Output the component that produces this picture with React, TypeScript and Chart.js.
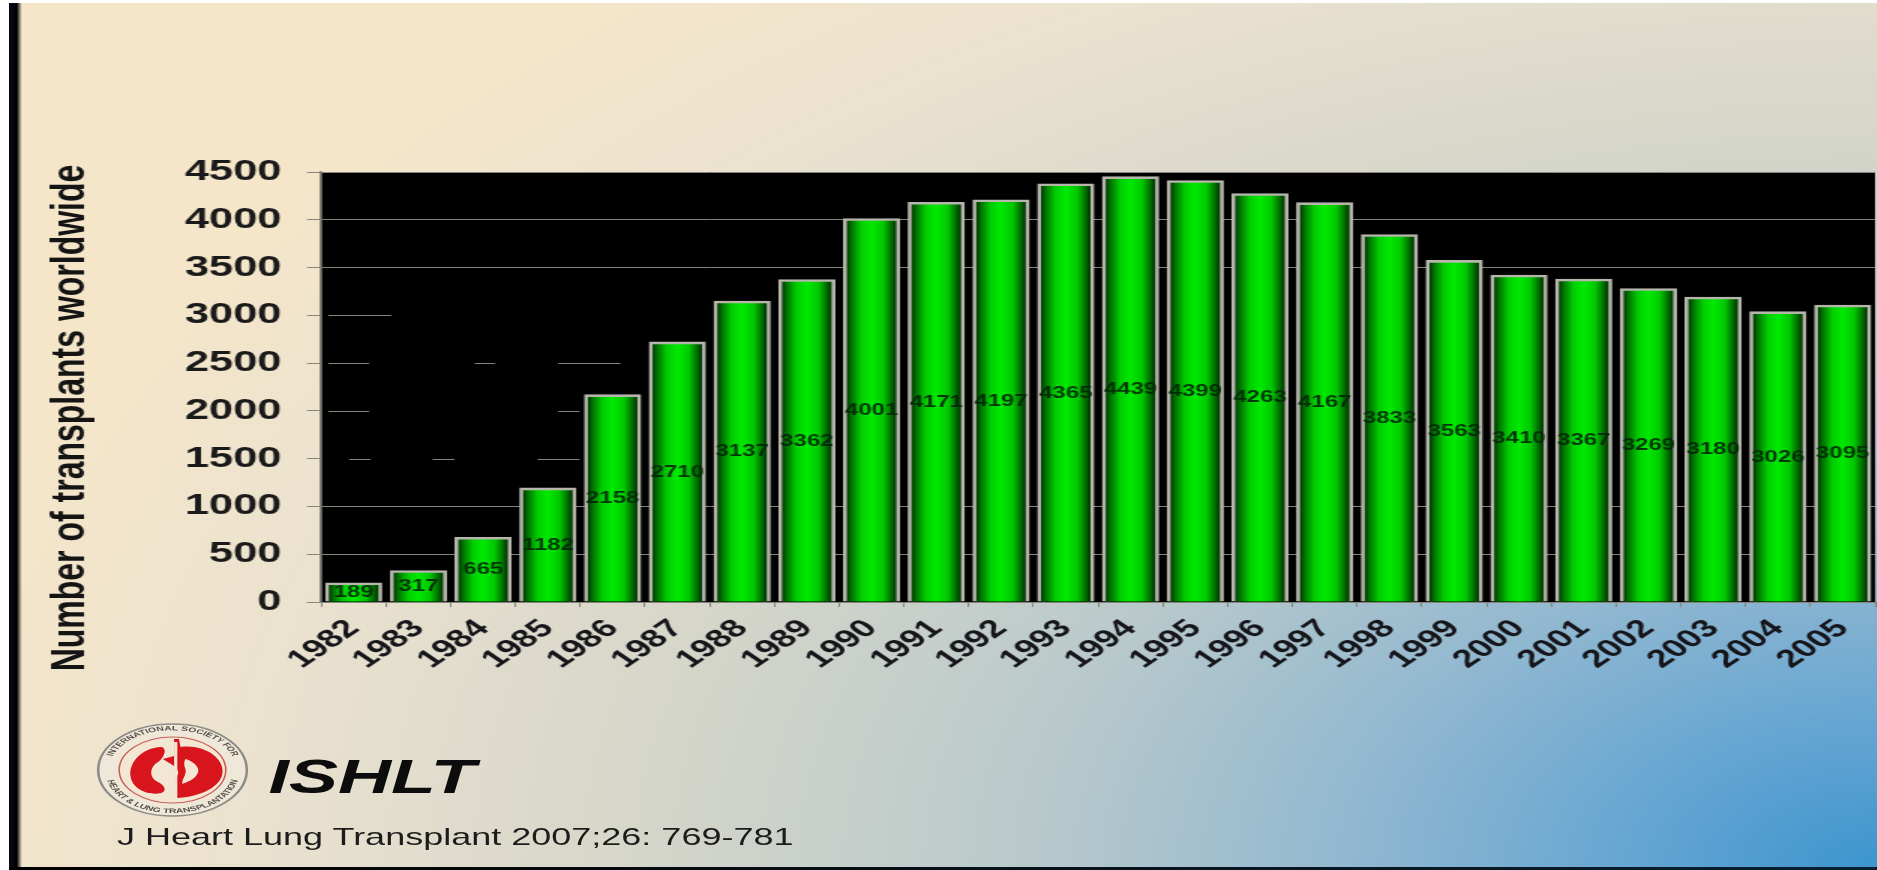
import React, { useEffect, useRef } from "react";
import { Chart, registerables } from "chart.js";

Chart.register(...registerables);

const years = ["1982","1983","1984","1985","1986","1987","1988","1989","1990","1991","1992","1993","1994","1995","1996","1997","1998","1999","2000","2001","2002","2003","2004","2005"];
const transplants = [189,317,665,1182,2158,2710,3137,3362,4001,4171,4197,4365,4439,4399,4263,4167,3833,3563,3410,3367,3269,3180,3026,3095];
// Grid values drawn only as short pieces: [value, from category, to category]
const gridPieces: [number, number, number][] = [
  [3000, 0.11, 1.08],
  [2500, 0.11, 0.74], [2500, 2.37, 2.68], [2500, 3.66, 4.62],
  [2000, 0.11, 0.74], [2000, 3.66, 3.99],
  [1500, 0.43, 0.76], [1500, 1.72, 2.06], [1500, 3.34, 3.99],
];
const brokenGridValues = [1500, 2000, 2500, 3000];
const yAxisTitle = "Number of transplants worldwide";

const SANS = '"Liberation Sans", Arial, sans-serif';
const GRID = "#85857c";
const STRETCH = 1.5;
const WIDTH = 1877 / STRETCH;

const plotBackdrop = {
  id: "plotBackdrop",
  beforeDraw(chart: any) {
    const { ctx, chartArea: a } = chart;
    ctx.save();
    ctx.fillStyle = "#000";
    ctx.fillRect(a.left, a.top, a.right - a.left, a.bottom - a.top);
    ctx.restore();
  },
  beforeDatasetsDraw(chart: any) {
    const { ctx, scales } = chart;
    const step = scales.x.width / years.length;
    ctx.save();
    ctx.strokeStyle = GRID;
    ctx.lineWidth = 1;
    for (const [value, from, to] of gridPieces) {
      const y = Math.round(scales.y.getPixelForValue(value)) + 0.5;
      ctx.beginPath();
      ctx.moveTo(scales.x.left + from * step, y);
      ctx.lineTo(scales.x.left + to * step, y);
      ctx.stroke();
    }
    ctx.restore();
  },
};

const valueLabels = {
  id: "valueLabels",
  afterDatasetsDraw(chart: any) {
    const { ctx } = chart;
    const bars = chart.getDatasetMeta(0).data;
    ctx.save();
    ctx.font = `bold 16px ${SANS}`;
    ctx.textAlign = "center";
    ctx.textBaseline = "middle";
    ctx.fillStyle = "rgba(2,40,6,0.92)";
    bars.forEach((bar: any, i: number) => {
      ctx.fillText(String(transplants[i]), bar.x, (bar.y + bar.base) / 2);
    });
    ctx.restore();
  },
};

// The axis title sits lower than the middle of the axis, so it is placed by hand.
const sideTitle = {
  id: "sideTitle",
  afterDraw(chart: any) {
    const { ctx } = chart;
    ctx.save();
    ctx.translate(47, 418);
    ctx.rotate(-Math.PI / 2);
    ctx.font = `bold 32px ${SANS}`;
    ctx.textAlign = "center";
    ctx.textBaseline = "middle";
    ctx.fillStyle = "#141414";
    ctx.fillText(yAxisTitle, 0, 0);
    ctx.restore();
  },
};

function barFill(context: any) {
  const chart = context.chart;
  const scale = chart.scales?.x;
  if (!scale || !chart.chartArea) return "#00c000";
  const centre = scale.getPixelForValue(context.dataIndex);
  const half = 17.5;
  const g = chart.ctx.createLinearGradient(centre - half, 0, centre + half, 0);
  g.addColorStop(0, "#002400");
  g.addColorStop(0.12, "#007400");
  g.addColorStop(0.3, "#00cc00");
  g.addColorStop(0.5, "#00ea00");
  g.addColorStop(0.72, "#00c800");
  g.addColorStop(0.88, "#006a00");
  g.addColorStop(1, "#001e00");
  return g;
}

function Logo() {
  return (
    <svg
      width={112}
      height={96}
      viewBox="-52 -48 104 96"
      preserveAspectRatio="none"
      style={{ position: "absolute", left: 59, top: 722 }}
    >
      <defs>
        <path id="ringTop" d="M -39,6 A 39.5,39.5 0 1 1 39,6" />
        <path id="ringBottom" d="M -41,8 A 41.5,41.5 0 0 0 41,8" />
      </defs>
      <circle r="46" fill="#efe8d8" stroke="#8c8c88" strokeWidth="1.6" />
      <circle r="33" fill="#f3e6d2" stroke="#c9605a" strokeWidth="1" />
      <text fontFamily={SANS} fontSize="6.4" fontWeight="bold" fill="#55504c">
        <textPath href="#ringTop" startOffset="50%" textAnchor="middle">
          INTERNATIONAL SOCIETY FOR
        </textPath>
      </text>
      <text fontFamily={SANS} fontSize="6.4" fontWeight="bold" fill="#55504c">
        <textPath href="#ringBottom" startOffset="50%" textAnchor="middle">
          HEART &amp; LUNG TRANSPLANTATION
        </textPath>
      </text>
      {/* Left lung */}
      <path
        d="M -7,-23 C -19,-22 -27,-8 -26,6 C -25,19 -15,26 -7,23 C -3,21 -5,15 -9,12 C -15,7 -14,-3 -9,-8 C -5,-12 -3,-22 -7,-23 Z"
        fill="#d8141c"
      />
      {/* Right lung with the heart against it */}
      <path
        d="M 1,-31 L 4,-31 L 5,-23 C 19,-26 31,-13 31,1 C 31,16 18,27 2,28 L 1,8 C 6,4 3,-3 -2,-7 L -6,-11 L 1,-14 Z"
        fill="#d8141c"
      />
      <path d="M 1,-28 L 3,-28 L 3,28 L 1,28 Z" fill="#f3e6d2" />
      <path
        d="M 8,-11 C 14,-8 18,-1 15,5 C 13,10 9,12 6,14 C 6,8 9,4 8,-1 C 7,-5 7,-8 8,-11 Z"
        fill="#f3e6d2"
      />
    </svg>
  );
}

export default function App() {
  const canvasRef = useRef<HTMLCanvasElement>(null);

  useEffect(() => {
    if (!canvasRef.current) return;
    const chart = new Chart(canvasRef.current, {
      type: "bar",
      data: {
        labels: years,
        datasets: [
          {
            data: transplants,
            backgroundColor: barFill,
            borderColor: "#b6b6ac",
            borderWidth: 2.6,
            borderSkipped: "bottom",
            inflateAmount: 1.5,
            barPercentage: 0.815,
            categoryPercentage: 1,
          },
        ],
      },
      options: {
        animation: false,
        responsive: false,
        devicePixelRatio: 1,
        layout: { padding: { left: 25.5, top: 172, right: 1, bottom: 158 } },
        plugins: { legend: { display: false }, tooltip: { enabled: false } },
        scales: {
          x: {
            afterFit(scale: any) {
              scale.height = 110;
              scale.paddingRight = 0;
            },
            grid: { drawOnChartArea: false, tickLength: 5, tickColor: GRID, color: GRID },
            border: { color: GRID, width: 1 },
            ticks: {
              autoSkip: false,
              minRotation: 45,
              maxRotation: 45,
              padding: 7,
              color: "#15151a",
              font: { family: SANS, size: 25, weight: "bold" },
            },
          },
          y: {
            min: 0,
            max: 4500,
            afterFit(scale: any) {
              scale.width = 188.7;
            },
            grid: {
              color: (c: any) =>
                brokenGridValues.includes(c.tick?.value) ? "rgba(0,0,0,0)" : GRID,
              tickColor: GRID,
              tickLength: 9.5,
            },
            border: { color: GRID, width: 1.5 },
            ticks: {
              stepSize: 500,
              padding: 17,
              color: "#1a1a1a",
              font: { family: SANS, size: 29, weight: "bold" },
              callback: (value: any) => String(value),
            },
          },
        },
      },
      plugins: [plotBackdrop, valueLabels, sideTitle],
    } as any);
    return () => chart.destroy();
  }, []);

  return (
    <div style={{ position: "absolute", left: 0, top: 0, width: 1877, height: 870, overflow: "hidden", background: "#fff" }}>
      {/* Slide panel with its blue glow from the lower right corner */}
      <div
        style={{
          position: "absolute",
          left: 9,
          top: 3,
          right: 0,
          bottom: 0,
          background:
            "radial-gradient(1520px 900px at 1868px 867px, #3c95cf 0%, #6aa7d2 18%, #94b9d0 36%, #b9c9cb 56%, #d6d6ca 82%, #ebe2cf 108%, #f5e6c9 130%)",
        }}
      />
      <div style={{ position: "absolute", left: 9, top: 3, width: 13, bottom: 0, background: "linear-gradient(to right, #0a0a20 0, #000 60%, rgba(0,0,0,0) 100%)" }} />
      <div style={{ position: "absolute", left: 9, right: 0, bottom: 0, height: 3, background: "linear-gradient(to right, #000, #0a2030)" }} />

      {/* Everything below is laid out narrow and widened as a single sheet */}
      <div
        style={{
          position: "absolute",
          left: 0,
          top: 0,
          width: WIDTH,
          height: 870,
          transform: `scaleX(${STRETCH})`,
          transformOrigin: "0 0",
        }}
      >
        <canvas ref={canvasRef} width={Math.round(WIDTH)} height={870} style={{ position: "absolute", left: 0, top: 0 }} />
        <Logo />
        <div
          style={{
            position: "absolute",
            left: 179,
            top: 749,
            font: `italic bold 49px/54px ${SANS}`,
            color: "#0c0c0c",
            whiteSpace: "nowrap",
          }}
        >
          ISHLT
        </div>
        <div
          style={{
            position: "absolute",
            left: 78,
            top: 822,
            font: `24px/29px ${SANS}`,
            color: "#1c1c1c",
            whiteSpace: "nowrap",
          }}
        >
          J Heart Lung Transplant 2007;26: 769-781
        </div>
      </div>
    </div>
  );
}
